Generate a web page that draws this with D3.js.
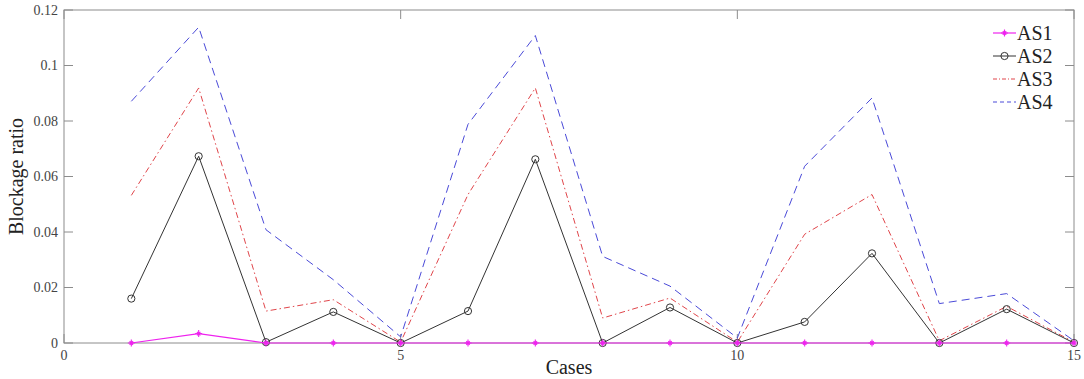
<!DOCTYPE html>
<html>
<head>
<meta charset="utf-8">
<script src="https://cdn.jsdelivr.net/npm/d3@7"></script>
<style>
  body { margin: 0; background: #fff; }
</style>
</head>
<body>
<div id="chart"></div>
<script>
const cases = [1, 2, 3, 4, 5, 6, 7, 8, 9, 10, 11, 12, 13, 14, 15];
const as1 = [0, 0.0034, 0, 0, 0, 0, 0, 0, 0, 0, 0, 0, 0, 0, 0];
const as2 = [0.016, 0.0673, 0.0003, 0.0112, 0, 0.0115, 0.0662, 0, 0.0128, 0, 0.0076, 0.0323, 0, 0.0122, 0];
const as3 = [0.0532, 0.0919, 0.0115, 0.0156, 0.0003, 0.0535, 0.0919, 0.009, 0.0162, 0.0003, 0.0392, 0.0535, 0.0008, 0.0132, 0.0003];
const as4 = [0.0871, 0.1138, 0.0408, 0.0228, 0.0022, 0.0788, 0.1108, 0.0312, 0.0205, 0.0018, 0.0637, 0.0883, 0.0142, 0.0178, 0.0008];
const seriesNames = ["AS1", "AS2", "AS3", "AS4"];
const xTicks = [0, 5, 10, 15];
const yTicks = [0, 0.02, 0.04, 0.06, 0.08, 0.1, 0.12];

const width = 1084, height = 379;
const margin = {top: 10, right: 10, bottom: 36, left: 64};
const serif = "Liberation Serif";

const svg = d3.select("#chart")
  .append("svg")
  .attr("width", width)
  .attr("height", height)
  .attr("font-family", serif);

const x = d3.scaleLinear().domain([0, 15]).range([margin.left, width - margin.right]);
const y = d3.scaleLinear().domain([0, 0.12]).range([height - margin.bottom, margin.top]);

const axisColor = "#8c8c8c";
const tickLen = 9;

// box
svg.append("rect")
  .attr("x", x(0)).attr("y", y(0.12))
  .attr("width", x(15) - x(0)).attr("height", y(0) - y(0.12))
  .attr("fill", "none").attr("stroke", axisColor).attr("stroke-width", 1);

// inward ticks, all four sides
const ticks = svg.append("g").attr("stroke", axisColor).attr("stroke-width", 1);
yTicks.forEach(v => {
  ticks.append("line").attr("x1", x(0)).attr("x2", x(0) + tickLen).attr("y1", y(v)).attr("y2", y(v));
  ticks.append("line").attr("x1", x(15)).attr("x2", x(15) - tickLen).attr("y1", y(v)).attr("y2", y(v));
});
xTicks.forEach(v => {
  ticks.append("line").attr("x1", x(v)).attr("x2", x(v)).attr("y1", y(0)).attr("y2", y(0) - tickLen);
  ticks.append("line").attr("x1", x(v)).attr("x2", x(v)).attr("y1", y(0.12)).attr("y2", y(0.12) + tickLen);
});

// tick labels
svg.append("g").selectAll("text")
  .data(yTicks).join("text")
  .attr("x", x(0) - 6).attr("y", d => y(d))
  .attr("dy", "0.35em")
  .attr("text-anchor", "end")
  .attr("font-family", serif)
  .attr("font-size", 14).attr("fill", "#444")
  .text(d => d3.format("~g")(d));

svg.append("g").selectAll("text")
  .data(xTicks).join("text")
  .attr("x", d => x(d)).attr("y", y(0) + 17)
  .attr("text-anchor", "middle")
  .attr("font-family", serif)
  .attr("font-size", 14).attr("fill", "#444")
  .text(d => d);

// axis titles
svg.append("text")
  .attr("x", (x(0) + x(15)) / 2).attr("y", height - 5)
  .attr("text-anchor", "middle").attr("font-size", 20).attr("fill", "#222")
  .attr("font-family", serif)
  .text("Cases");

svg.append("text")
  .attr("transform", `translate(23,${(y(0) + y(0.12)) / 2}) rotate(-90)`)
  .attr("text-anchor", "middle").attr("font-size", 20).attr("fill", "#222")
  .attr("font-family", serif)
  .text("Blockage ratio");

// series
const styles = {
  AS1: {values: as1, color: "#ee22ee", dash: null, width: 1.2, marker: "star"},
  AS2: {values: as2, color: "#333", dash: null, width: 1, marker: "circle"},
  AS3: {values: as3, color: "#e0454a", dash: "6,3,1.5,3", width: 1, marker: null},
  AS4: {values: as4, color: "#4a4ad8", dash: "8,5", width: 1, marker: null}
};

const line = d3.line().x(d => x(d[0])).y(d => y(d[1]));

function drawMarker(g, kind, cx, cy, color) {
  if (kind === "circle") {
    g.append("circle").attr("cx", cx).attr("cy", cy).attr("r", 3.6)
      .attr("fill", "none").attr("stroke", color).attr("stroke-width", 1);
  } else if (kind === "star") {
    const s = 3.5;
    g.append("path")
      .attr("d", `M${cx - s},${cy}H${cx + s}M${cx},${cy - s}V${cy + s}` +
        `M${cx - s * 0.5},${cy - s * 0.5}L${cx + s * 0.5},${cy + s * 0.5}` +
        `M${cx - s * 0.5},${cy + s * 0.5}L${cx + s * 0.5},${cy - s * 0.5}`)
      .attr("stroke", color).attr("stroke-width", 1.1);
  }
}

["AS4", "AS3", "AS2", "AS1"].forEach(name => {
  const st = styles[name];
  const pts = cases.map((c, i) => [c, st.values[i]]);
  const g = svg.append("g");
  g.append("path")
    .attr("d", line(pts))
    .attr("fill", "none")
    .attr("stroke", st.color)
    .attr("stroke-width", st.width)
    .attr("stroke-dasharray", st.dash);
  if (st.marker) pts.forEach(p => drawMarker(g, st.marker, x(p[0]), y(p[1]), st.color));
});

// legend
const legend = svg.append("g").attr("transform", "translate(993,33)");
seriesNames.forEach((name, i) => {
  const st = styles[name];
  const row = legend.append("g").attr("transform", `translate(0,${i * 23})`);
  row.append("line").attr("x1", 0).attr("x2", 23).attr("y1", 0).attr("y2", 0)
    .attr("stroke", st.color).attr("stroke-width", st.width)
    .attr("stroke-dasharray", st.dash ? (name === "AS4" ? "4,3" : "4,2,1,2") : null);
  if (st.marker) drawMarker(row, st.marker, 11.5, 0, st.color);
  row.append("text").attr("x", 24).attr("y", 0).attr("dy", "0.35em")
    .attr("font-family", serif)
    .attr("font-size", 20).attr("fill", "#222").text(name);
});
</script>
</body>
</html>
